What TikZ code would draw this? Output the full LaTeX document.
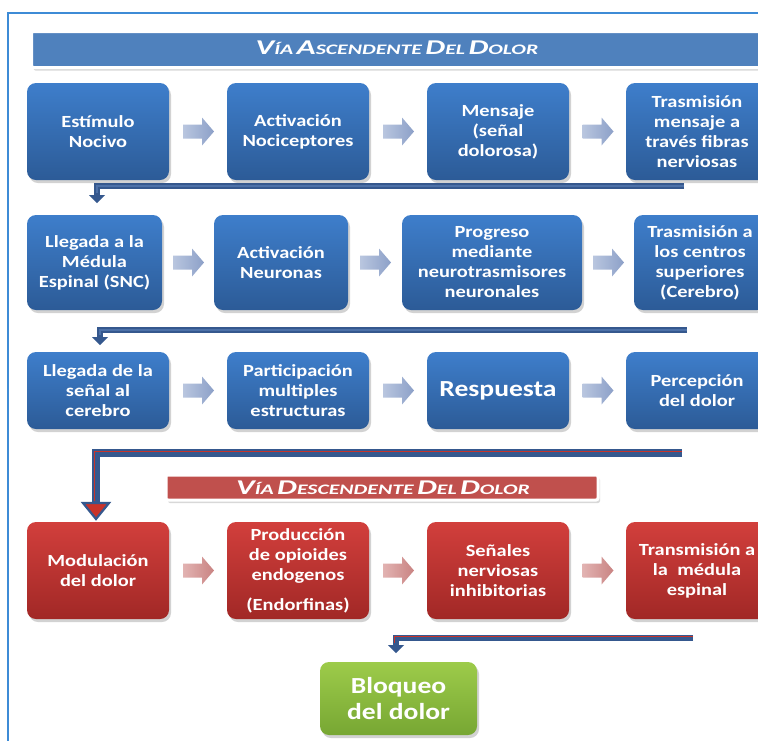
\documentclass[tikz,border=0pt]{standalone}
\usepackage{fontspec}
\setmainfont{Carlito}[FakeStretch=1.2]
\newfontfamily\titlefont{Carlito}[FakeStretch=1.5]
\usetikzlibrary{shadows,calc}
\definecolor{bxtop}{HTML}{3E7ECB}
\definecolor{bxbot}{HTML}{2C5B97}
\definecolor{rdtop}{HTML}{D23F3C}
\definecolor{rdbot}{HTML}{A12826}
\definecolor{grtop}{HTML}{9DCB4A}
\definecolor{grbot}{HTML}{77A733}
\definecolor{ttlblue}{HTML}{4F81BD}
\definecolor{ttlred}{HTML}{C0504D}
\definecolor{connout}{HTML}{35588E}
\definecolor{connin}{HTML}{4D71A8}
\definecolor{connred}{HTML}{C8332A}
\definecolor{chbl}{HTML}{B9C6DF}
\definecolor{chbr}{HTML}{8CA0C8}
\definecolor{chrl}{HTML}{E2B3B2}
\definecolor{chrr}{HTML}{C98382}
\definecolor{framec}{HTML}{3D8BD6}
\newcommand\myTitleSC[2]{{\fontsize{21}{22}\selectfont #1}{\fontsize{14.5}{22}\selectfont #2}}
\tikzset{
  boxbase/.style={rounded corners=9pt, align=center, text=white,
    font=\bfseries\fontsize{17}{20}\selectfont,
    drop shadow={opacity=0.35, shadow xshift=2pt, shadow yshift=-3pt}},
  bluebox/.style={boxbase, top color=bxtop, bottom color=bxbot},
  redbox/.style={boxbase, top color=rdtop, bottom color=rdbot},
  greenbox/.style={boxbase, top color=grtop, bottom color=grbot},
  titlebar/.style={draw=white, line width=3pt, rounded corners=2pt,
    drop shadow={opacity=0.3, shadow xshift=2pt, shadow yshift=-3pt}},
  titletext/.style={text=white, font=\titlefont\bfseries\itshape, inner sep=0pt},
  connbase/.style={connout, line width=6.5pt},
  conninner/.style={connin, line width=1.6pt},
  connredin/.style={connred, line width=1pt},
  chevb/.pic={\shade[left color=chbl, right color=chbr]
     (-15,-7) -- (4,-7) -- (4,-14) -- (16,0) -- (4,14) -- (4,7) -- (-15,7) -- cycle;},
  chevr/.pic={\shade[left color=chrl, right color=chrr]
     (-15,-7) -- (4,-7) -- (4,-14) -- (16,0) -- (4,14) -- (4,7) -- (-15,7) -- cycle;}
}
\begin{document}
\begin{tikzpicture}[x=1pt,y=-1pt]
\useasboundingbox (0,0) rectangle (758,740);
\clip (0,0) rectangle (758,740);
\fill[white] (0,0) rectangle (758,740);
% frame
\draw[framec, line width=1.6pt] (8,745) -- (8,13) -- (770,13);

% title 1
\node[titlebar, fill=ttlblue, minimum width=760pt, minimum height=36pt, anchor=north west] (t1) at (30,30) {};
\node[titletext] (t1txt) at (397,48) {\myTitleSC{V}{ÍA} \myTitleSC{A}{SCENDENTE} \myTitleSC{D}{EL} \myTitleSC{D}{OLOR}};

% row 1
\node[bluebox, minimum width=142pt, minimum height=97pt] (a1) at (98,131.5) {Estímulo\\Nocivo};
\node[bluebox, minimum width=142pt, minimum height=97pt] (a2) at (298,131.5) {Activación\\Nociceptores};
\node[bluebox, minimum width=142pt, minimum height=97pt] (a3) at (498,131.5) {Mensaje\\(señal\\dolorosa)};
\node[bluebox, minimum width=142pt, minimum height=97pt] (a4) at (697,131.5) {Trasmisión\\mensaje a\\través fibras\\nerviosas};
\pic at (198,131.5) {chevb};
\pic at (398,131.5) {chevb};
\pic at (597.5,131.5) {chevb};

% connector 1
\coordinate (c1s) at (684,186);
\coordinate (c1e) at (97,195);
\draw[connbase] (c1s) -| (c1e);
\draw[conninner] (c1s) -| ($(c1e)+(0,-2)$);
\fill[connout] ($(c1e)+(-8,0)$) -- ($(c1e)+(8,0)$) -- ($(c1e)+(0,8)$) -- cycle;

% row 2
\node[bluebox, minimum width=135pt, minimum height=95pt] (b1) at (94.5,262.5) {Llegada a la\\Médula\\Espinal (SNC)};
\node[bluebox, minimum width=134pt, minimum height=95pt] (b2) at (281,262.5) {Activación\\Neuronas};
\node[bluebox, minimum width=180pt, minimum height=95pt] (b3) at (492,262.5) {Progreso\\mediante\\neurotrasmisores\\neuronales};
\node[bluebox, minimum width=132pt, minimum height=95pt] (b4) at (700,262.5) {Trasmisión a\\los centros\\superiores\\(Cerebro)};
\pic at (188,262.5) {chevb};
\pic at (375,262.5) {chevb};
\pic at (608,262.5) {chevb};

% connector 2
\coordinate (c2s) at (687,330);
\coordinate (c2e) at (100,337);
\draw[connbase] (c2s) -| (c2e);
\draw[conninner] (c2s) -| ($(c2e)+(0,-2)$);
\fill[connout] ($(c2e)+(-8,0)$) -- ($(c2e)+(8,0)$) -- ($(c2e)+(0,8)$) -- cycle;

% row 3
\node[bluebox, minimum width=142pt, minimum height=77pt] (c1) at (98,390.5) {Llegada de la\\señal al\\cerebro};
\node[bluebox, minimum width=142pt, minimum height=77pt] (c2) at (298,390.5) {Participación\\multiples\\estructuras};
\node[bluebox, minimum width=142pt, minimum height=77pt, font=\bfseries\fontsize{23}{26}\selectfont] (c3) at (498,390.5) {Respuesta};
\node[bluebox, minimum width=142pt, minimum height=77pt] (c4) at (697,390.5) {Percepción\\del dolor};
\pic at (198,390.5) {chevb};
\pic at (398,390.5) {chevb};
\pic at (597.5,390.5) {chevb};

% connector 3
\coordinate (c3s) at (682,453);
\coordinate (c3e) at (96,503);
\draw[connbase, line width=8pt] (c3s) -| (c3e);
\draw[connredin] ($(c3s)+(0,-1.5)$) -| ($(c3e)+(-1.5,-2)$);
\filldraw[fill=connred, draw=connout, line width=2.2pt, line join=miter]
  ($(c3e)+(-13,0)$) -- ($(c3e)+(13,0)$) -- ($(c3e)+(0,16)$) -- cycle;

% title 2
\node[titlebar, fill=ttlred, minimum width=432pt, minimum height=25pt] (t2) at (382,487.5) {};
\node[titletext] (t2txt) at (383,488) {\myTitleSC{V}{ÍA} \myTitleSC{D}{ESCENDENTE} \myTitleSC{D}{EL} \myTitleSC{D}{OLOR}};

% row 4
\node[redbox, minimum width=142pt, minimum height=97pt] (d1) at (98,570.5) {Modulación\\del dolor};
\node[redbox, minimum width=142pt, minimum height=97pt] (d2) at (298,570.5) {Producción\\de opioides\\endogenos\\[10pt](Endorfinas)};
\node[redbox, minimum width=142pt, minimum height=97pt] (d3) at (498,570.5) {Señales\\nerviosas\\inhibitorias};
\node[redbox, minimum width=142pt, minimum height=97pt] (d4) at (697,570.5) {Transmisión a\\la~ médula\\espinal};
\pic at (198,570.5) {chevr};
\pic at (398,570.5) {chevr};
\pic at (597.5,570.5) {chevr};

% connector 4
\coordinate (c4s) at (693,638);
\coordinate (c4e) at (396,645);
\draw[connbase] (c4s) -| (c4e);
\draw[connredin] ($(c4s)+(0,-1.2)$) -| ($(c4e)+(-1.2,-2)$);
\fill[connout] ($(c4e)+(-8,0)$) -- ($(c4e)+(8,0)$) -- ($(c4e)+(0,8)$) -- cycle;

% final
\node[greenbox, minimum width=157pt, minimum height=73pt, font=\bfseries\fontsize{23}{26}\selectfont] (g) at (398.5,698.5) {Bloqueo\\del dolor};
\end{tikzpicture}
\end{document}
